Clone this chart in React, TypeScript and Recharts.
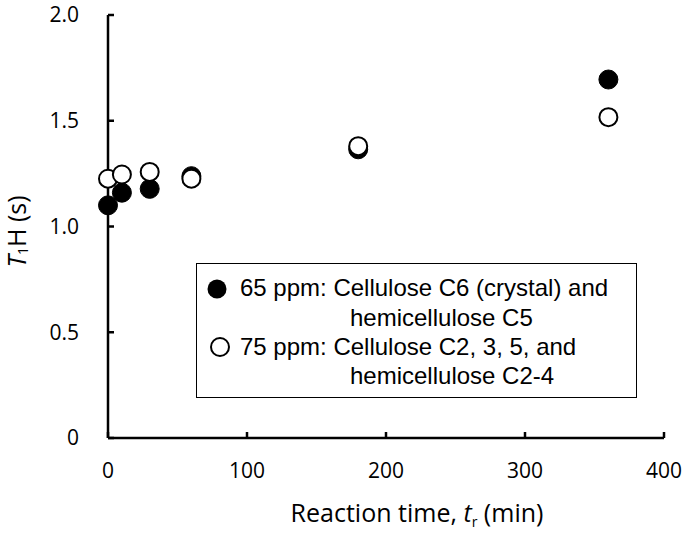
import { Legend, Scatter, ScatterChart, XAxis, YAxis } from "recharts";

// reaction time (min)
const times = [0, 10, 30, 60, 180, 360];
// T1H (s)
const ppm65 = [1.1, 1.16, 1.178, 1.238, 1.365, 1.695];
const ppm75 = [1.226, 1.246, 1.258, 1.226, 1.38, 1.517];

const xTicks = [0, 100, 200, 300, 400];
const yTicks = [0, 0.5, 1, 1.5, 2];

const filledData = times.map((t, i) => ({ t, v: ppm65[i] }));
const openData = times.map((t, i) => ({ t, v: ppm75[i] }));

const tickFont = { fontSize: 21, fontFamily: "Open Sans", fill: "#000" };

const FilledDot = (props: any) => (
  <circle cx={props.cx} cy={props.cy} r={9.5} fill="#000" stroke="#000" strokeWidth={1} />
);
const OpenDot = (props: any) => (
  <circle cx={props.cx} cy={props.cy} r={9} fill="#fff" stroke="#000" strokeWidth={2} />
);

const legendText = {
  position: "absolute" as const,
  lineHeight: "28px",
  whiteSpace: "nowrap" as const,
};

function LegendBox() {
  return (
    <div
      style={{
        position: "relative",
        boxSizing: "border-box",
        width: 441,
        height: 135,
        border: "1.5px solid #000",
        background: "#fff",
        fontFamily: "'Liberation Sans', Arial, sans-serif",
        fontSize: 24,
        color: "#000",
      }}
    >
      <svg width={40} height={135} style={{ position: "absolute", left: 0, top: 0 }}>
        <circle cx={20} cy={25} r={9.5} fill="#000" />
        <circle cx={23} cy={83} r={9} fill="#fff" stroke="#000" strokeWidth={2} />
      </svg>
      <div style={{ ...legendText, left: 43, top: 25 - 14 - 1.5 }}>65 ppm: Cellulose C6 (crystal) and</div>
      <div style={{ ...legendText, left: 153, top: 55 - 14 - 1.5 }}>hemicellulose C5</div>
      <div style={{ ...legendText, left: 43, top: 84 - 14 - 1.5 }}>75 ppm: Cellulose C2, 3, 5, and</div>
      <div style={{ ...legendText, left: 153, top: 113 - 14 - 1.5 }}>hemicellulose C2-4</div>
    </div>
  );
}

const YLabel = (props: any) => {
  const vb = props.viewBox;
  const cx = 16;
  const cy = vb.y + vb.height / 2 + 5;
  return (
    <text
      x={cx}
      y={cy}
      transform={`rotate(-90, ${cx}, ${cy})`}
      textAnchor="middle"
      dominantBaseline="central"
      fontFamily="Open Sans"
      fontSize={25}
      fill="#000"
    >
      <tspan fontStyle="italic">T</tspan>
      <tspan fontSize={14} dy={6}>1</tspan>
      <tspan dy={-6}>H (s)</tspan>
    </text>
  );
};

const XLabel = (props: any) => {
  const vb = props.viewBox;
  const cx = vb.x + vb.width / 2 + 31;
  return (
    <text x={cx} y={522} textAnchor="middle" fontFamily="Open Sans" fontSize={25} fill="#000">
      <tspan>Reaction time, </tspan>
      <tspan fontStyle="italic">t</tspan>
      <tspan fontSize={14} dy={5}>r</tspan>
      <tspan dy={-5}> (min)</tspan>
    </text>
  );
};

export default function App() {
  return (
    <div style={{ position: "absolute", left: 0, top: 0, background: "#fff" }}>
      <ScatterChart width={685} height={535} margin={{ top: 15, right: 21, bottom: 0, left: 0 }}>
        <XAxis
          type="number"
          dataKey="t"
          domain={[0, 400]}
          ticks={xTicks}
          interval={0}
          height={97}
          tick={tickFont}
          axisLine={{ stroke: "#000", strokeWidth: 2.5 }}
          tickLine={{ stroke: "#000", strokeWidth: 2.5 }}
          tickSize={-6}
          tickMargin={31}
          label={{ content: XLabel }}
        />
        <YAxis
          type="number"
          dataKey="v"
          domain={[0, 2]}
          ticks={yTicks}
          interval={0}
          width={108}
          tick={tickFont}
          tickFormatter={(v: number) => (v === 0 ? "0" : v.toFixed(1))}
          axisLine={{ stroke: "#000", strokeWidth: 2.5 }}
          tickLine={{ stroke: "#000", strokeWidth: 2.5 }}
          tickSize={-6}
          tickMargin={35}
          label={{ content: YLabel }}
        />
        <Legend
          layout="vertical"
          align="center"
          verticalAlign="middle"
          wrapperStyle={{ left: 196, top: 263, width: 441, height: 135 }}
          content={() => <LegendBox />}
        />
        <Scatter name="65 ppm" data={filledData} shape={FilledDot} isAnimationActive={false} />
        <Scatter name="75 ppm" data={openData} shape={OpenDot} isAnimationActive={false} />
      </ScatterChart>
    </div>
  );
}
